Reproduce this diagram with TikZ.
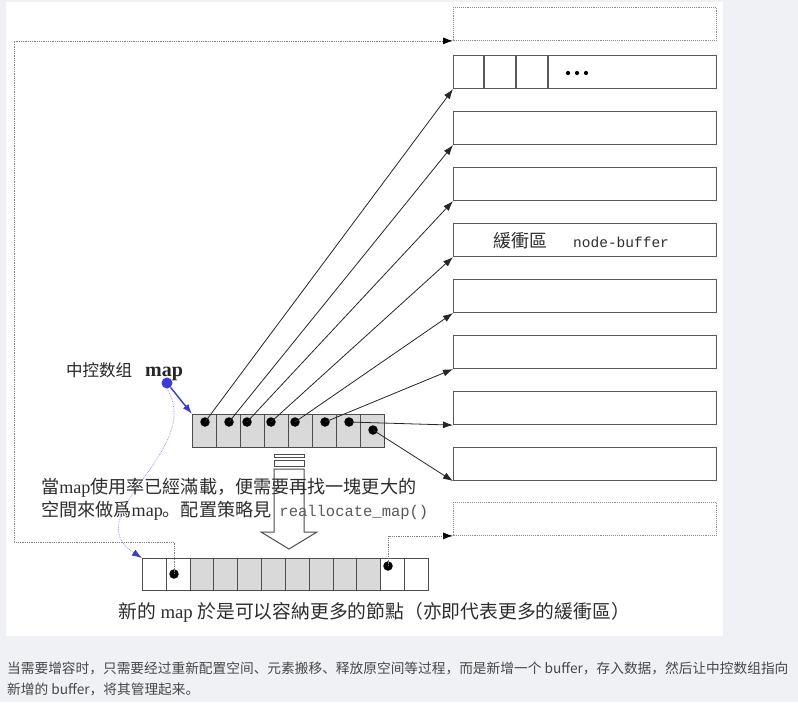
\documentclass[tikz,border=0pt]{standalone}
\usepackage{fontspec}
\setmainfont{Liberation Serif}
\setmonofont{Liberation Mono}
\newfontfamily\cjksc{Noto Sans CJK SC}
\usetikzlibrary{arrows.meta}
\definecolor{pagebg}{RGB}{240,241,245}
\definecolor{cellgray}{RGB}{217,217,217}
\definecolor{mapblue}{RGB}{58,58,214}
\definecolor{inkgray}{RGB}{45,45,45}
\begin{document}
\begin{tikzpicture}[x=1pt,y=-1pt,
  buf/.style={draw=black!65,line width=1.1pt,rectangle,inner sep=0pt,minimum width=263pt,minimum height=33pt,anchor=north west},
  ghost/.style={buf,draw=black!45,densely dotted,line width=0.9pt},
  cell/.style={draw=black!70,line width=1pt,rectangle,inner sep=0pt,minimum width=24pt,minimum height=33pt,anchor=north west,fill=cellgray},
  ncell/.style={cell,minimum width=23.83pt,minimum height=32pt},
  pt/.style={circle,fill=black,inner sep=0pt,minimum size=9.5pt},
  link/.style={draw=black!85,line width=0.8pt,-{Latex[length=10pt,width=7pt]}},
  dotlink/.style={draw=black!50,densely dotted,line width=0.8pt,-{Latex[length=10pt,width=7pt,color=black]}},
  txt/.style={anchor=west,inner sep=0pt,text=inkgray},
]
\fill[pagebg] (0,0) rectangle (798,702);
\fill[white] (6,2) rectangle (723,636);
\useasboundingbox (0,0) rectangle (798,702);

% buffers
\node[ghost] (b0) at (453,7) {};
\foreach \i in {1,...,8} \node[buf] (b\i) at (453,{55+56*(\i-1)}) {};
\node[ghost] (b9) at (453,502) {};
\foreach \dx in {31,63,95}
  \draw[black!65,line width=1.1pt] ([xshift=\dx pt]b1.north west) -- ([xshift=\dx pt]b1.south west);
\foreach \x in {568,577,586} \fill[black] (\x,73) circle (2.1pt);
\node[anchor=west,inner sep=0pt,text=inkgray] (nbl) at (493,241)
  {{\cjksc\fontsize{18}{18}\selectfont 緩衝區}\hspace{26pt}{\ttfamily\fontsize{14.5}{14.5}\selectfont node-buffer}};

% old map
\foreach \i in {1,...,8} \node[cell] (m\i) at ({192+24*(\i-1)},414) {};
\foreach \i/\x/\y in {1/205/422,2/229/422,3/247/422,4/271/422,5/295/422,6/325/422,7/349/422,8/373/430}
  \node[pt] (d\i) at (\x,\y) {};
\foreach \i in {1,...,8} \draw[link] (d\i.center) -- (b\i.south west);

% label
\node[txt,text=black!85] (lab) at (66,372)
  {{\cjksc\fontsize{16.5}{16.5}\selectfont 中控数组}\hspace{13pt}{\bfseries\fontsize{20}{20}\selectfont map}};
\node[circle,fill=mapblue,inner sep=0pt,minimum size=11pt] (bd) at (167,383) {};

% new map
\foreach \i/\c in {1/white,2/white,3/cellgray,4/cellgray,5/cellgray,6/cellgray,7/cellgray,8/cellgray,9/cellgray,10/cellgray,11/white,12/white}
  \node[ncell,fill=\c] (n\i) at ({142+23.83*(\i-1)},558) {};
\node[pt] (nd2) at (174,574) {};
\node[pt] (nd11) at (388,566) {};
\coordinate (c1) at (14,542);
\draw[dotlink] (nd2.center) |- (c1) |- (b0.south west);
\draw[dotlink] (nd11.center) |- (b9.south west);

% blue pointers
\draw[mapblue,line width=1.4pt,-{Latex[length=10pt,width=7pt]}] (bd) -- (m1.north west);
\draw[mapblue!60,densely dotted,line width=0.7pt,-{Latex[length=10pt,width=7pt,color=mapblue]}]
  (bd.south) .. controls (205,450) and (75,515) .. (n1.north west);

% wide arrow
\draw[black!70,fill=white,line width=1pt] (274,454) rectangle (304,457);
\draw[black!70,fill=white,line width=1pt] (274,460) rectangle (304,466);
\draw[black!70,fill=white,line width=1pt] (274,469) -- (304,469) -- (304,532) -- (317,532) -- (289,549) -- (261,532) -- (274,532) -- cycle;

% texts
\node[txt] (t1) at (41,488)
  {\fontsize{18.1}{18.1}\selectfont{\cjksc 當}map{\cjksc 使用率已經滿載，便需要再找一塊更大的}};
\node[txt] (t2) at (41,511)
  {\fontsize{18.1}{18.1}\selectfont{\cjksc 空間來做爲}map{\cjksc 。配置策略見}\hspace{8pt}{\ttfamily\fontsize{15.5}{15.5}\selectfont\color{black!65}reallocate\_map()}};
\node[txt] (cap) at (118,612)
  {\fontsize{18.8}{18.8}\selectfont{\cjksc 新的} map {\cjksc 於是可以容納更多的節點（亦即代表更多的緩衝區）}};

\node[txt,text=black!72] (note1) at (7,668)
  {\cjksc\fontsize{13.7}{13.7}\selectfont 当需要增容时，只需要经过重新配置空间、元素搬移、释放原空间等过程，而是新增一个 buffer，存入数据，然后让中控数组指向};
\node[txt,text=black!72] (note2) at (7,689)
  {\cjksc\fontsize{13.7}{13.7}\selectfont 新增的 buffer，将其管理起来。};
\end{tikzpicture}
\end{document}
